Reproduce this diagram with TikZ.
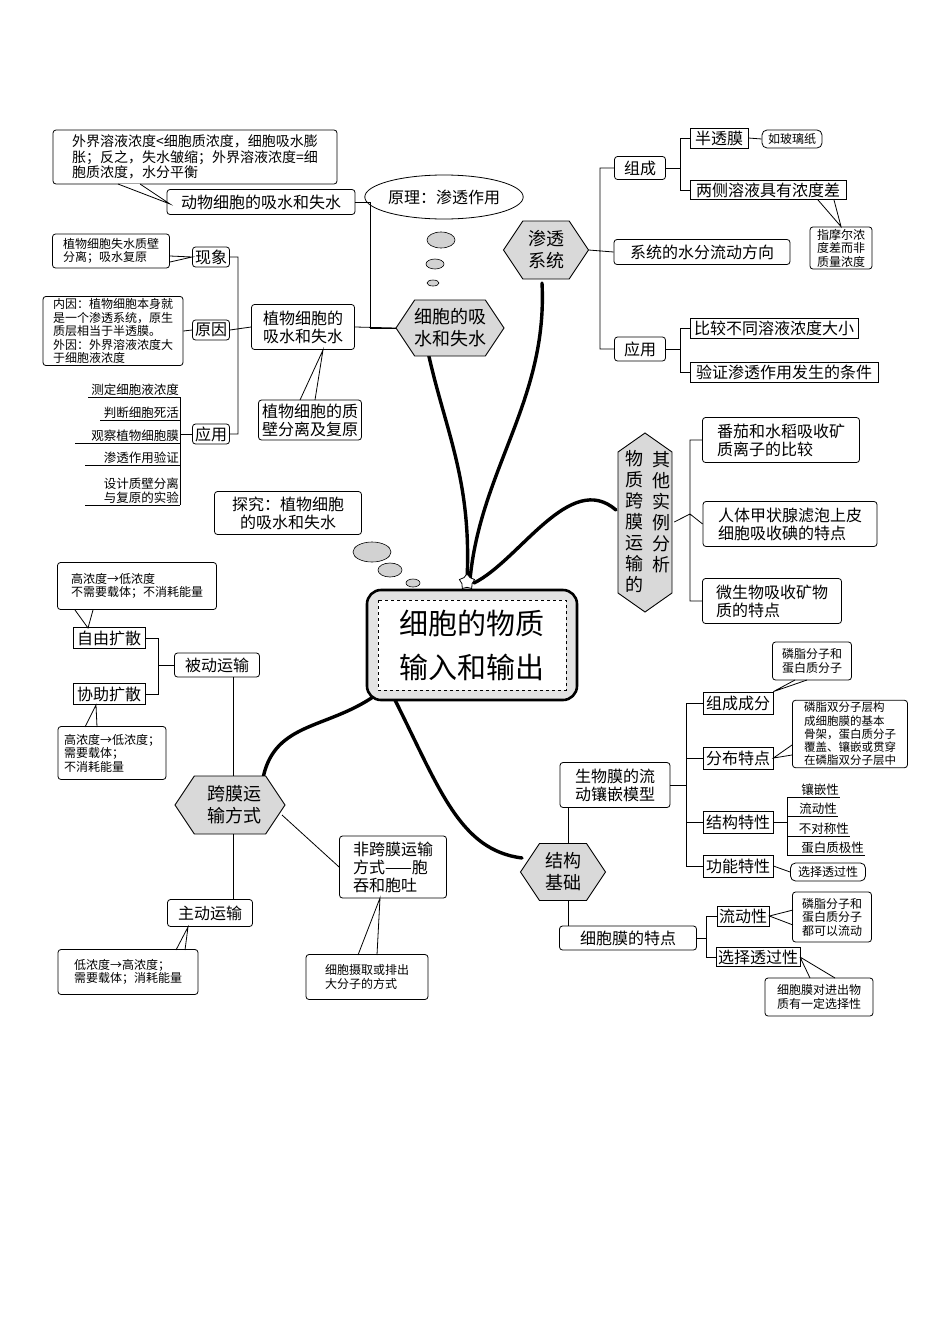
\documentclass[tikz,border=0pt]{standalone}
\usepackage{fontspec}
\setmainfont{Noto Sans CJK SC}
\XeTeXlinebreaklocale "zh"
\XeTeXlinebreakskip=0pt plus 1pt
\usetikzlibrary{shapes.geometric,calc}
\definecolor{hexgray}{gray}{0.85}
\newcommand\hexat[4]{% cx cy w h
  \filldraw[fill=hexgray,line width=0.9pt] ({#1-#3/2},#2) -- ({#1-#3/2+#4/3},{#2-#4/2}) -- ({#1+#3/2-#4/3},{#2-#4/2}) -- ({#1+#3/2},#2) -- ({#1+#3/2-#4/3},{#2+#4/2}) -- ({#1-#3/2+#4/3},{#2+#4/2}) -- cycle;}
\begin{document}
\begin{tikzpicture}[x=1pt,y=-1pt,
  box/.style={draw,line width=0.8pt,rounded corners=3pt,inner sep=2pt,align=center,font=\fontsize{16}{18}\selectfont},
  sbox/.style={box,rounded corners=0pt},
  cbox/.style={box,align=left,font=\fontsize{14}{15.5}\selectfont},
  tbox/.style={box,align=left,font=\fontsize{12}{13.5}\selectfont},
  hx/.style={align=center,font=\fontsize{18}{22}\selectfont},
  ln/.style={line width=0.8pt},
  thickc/.style={line width=3.4pt,line cap=round},
  lst/.style={anchor=south east,inner sep=1pt,align=right,font=\fontsize{12.5}{14}\selectfont}]
\useasboundingbox (0,0) rectangle (950,1344);
% ---------- thick curves
\draw[thickc] (428,352) .. controls (445,430) and (472,480) .. (467,580);
\draw[thickc] (542,283) .. controls (548,400) and (480,470) .. (470,580);
\draw[thickc] (616,510) .. controls (570,470) and (520,560) .. (474,583);
\draw[thickc] (380,692) .. controls (330,730) and (275,720) .. (263,778);
\draw[thickc] (395,700) .. controls (440,790) and (460,850) .. (522,858);
% ---------- central
\filldraw[fill=gray!22,line width=2.6pt,rounded corners=14pt] (367,590) rectangle (577,700);
\draw[dashed,line width=0.8pt,fill=white] (378,600) rectangle (566,690);
\node[align=center,font=\fontsize{29}{44}\selectfont] (center) at (472,645) {细胞的物质\\输入和输出};
\node[star,star points=5,draw,fill=white,minimum size=16pt,inner sep=0pt,line width=0.8pt] (star) at (467,582) {};
% ---------- top-left: 细胞的吸水和失水
\hexat{450}{328}{108}{56}
\node[hx,minimum width=108,minimum height=56] (hxa) at (450,328) {细胞的吸\\水和失水};
\node[draw,ellipse,line width=0.8pt,minimum width=130,minimum height=44,font=\fontsize{16}{18}\selectfont,inner sep=0pt] (yl) at (444,197) {原理：渗透作用};
\filldraw[fill=gray!35,line width=0.6pt] (441,240) ellipse (14 and 8);
\filldraw[fill=gray!35,line width=0.6pt] (435,264) ellipse (9 and 5);
\filldraw[fill=gray!35,line width=0.6pt] (433,283) ellipse (6 and 3);
\node[box,minimum width=188,minimum height=25] (dw) at (261,202) {动物细胞的吸水和失水};
\node[cbox,minimum width=284,minimum height=54] (dwc) at (195,157) {外界溶液浓度<细胞质浓度，细胞吸水膨\\胀；反之，失水皱缩；外界溶液浓度=细\\胞质浓度，水分平衡};
\draw[ln,fill=white] (118,184) -- (170,204) -- (140,184);
\node[box,minimum width=103,minimum height=45] (zw) at (303,327) {植物细胞的\\吸水和失水};
\coordinate (j1) at (370,328);
\draw[ln] (dw.east) -| (j1) -- (hxa.west);
\draw[ln] (zw.east) -- (hxa.west);
\node[box,minimum width=37,minimum height=20] (xx) at (211,257) {现象};
\node[box,minimum width=37,minimum height=20] (yy) at (211,330) {原因};
\node[box,minimum width=37,minimum height=20] (yyy) at (211,434) {应用};
\coordinate (j2) at (238,327);
\draw[ln] (xx.east) -| (j2) (yyy.east) -| (j2) (yy.east) -- (zw.west);
\node[tbox,minimum width=117,minimum height=34] (xxc) at (111,251) {植物细胞失水质壁\\分离；吸水复原};
\draw[ln] (170,256) -- (xx.west) -- (170,262);
\node[tbox,font=\fontsize{12}{13.5}\selectfont,minimum width=140] (yyc) at (113,331) {内因：植物细胞本身就\\是一个渗透系统，原生\\质层相当于半透膜。\\外因：外界溶液浓度大\\于细胞液浓度};
\draw[ln] (yyc.east) -- (yy.west);
\node[lst] (l1) at (180,397) {测定细胞液浓度};
\node[lst] (l2) at (180,420) {判断细胞死活};
\node[lst] (l3) at (180,443) {观察植物细胞膜};
\node[lst] (l4) at (180,465) {渗透作用验证};
\node[lst] (l5) at (180,505) {设计质壁分离\\与复原的实验};
\draw[ln] (88,397)--(180,397) (100,420)--(180,420) (75,443)--(180,443) (85,465)--(180,465) (85,505)--(180,505);
\draw[ln] (180,397) -- (180,505);
\draw[ln] (180,434) -- (yyy.west);
\node[box,minimum width=103,minimum height=40] (zb) at (310,420) {植物细胞的质\\壁分离及复原};
\draw[ln] (300,400) -- (323,350) -- (315,400);
\node[box,minimum width=147,minimum height=43] (tj) at (288,513) {探究：植物细胞\\的吸水和失水};
\filldraw[fill=gray!35,line width=0.6pt] (372,552) ellipse (19 and 10);
\filldraw[fill=gray!35,line width=0.6pt] (390,570) ellipse (12 and 7);
\filldraw[fill=gray!35,line width=0.6pt] (413,583) ellipse (7 and 4);
% ---------- top-right: 渗透系统
\hexat{546}{250}{85}{58}
\node[hx,minimum width=85,minimum height=58] (st) at (546,250) {渗透\\系统};
\node[box,minimum width=51,minimum height=23] (zc) at (640,168) {组成};
\node[box,minimum width=176,minimum height=25] (fx) at (702,252) {系统的水分流动方向};
\node[box,minimum width=51,minimum height=24] (yy2) at (640,349) {应用};
\coordinate (j3) at (600,252);
\draw[ln] (st.east) -- (fx.west) (zc.west) -| (j3) (yy2.west) -| (j3);
\node[sbox,minimum width=58,minimum height=20] (btm) at (719,138) {半透膜};
\node[box,rounded corners=5pt,font=\fontsize{12}{13}\selectfont,minimum width=60,minimum height=18] (blz) at (792,139) {如玻璃纸};
\draw[ln] (btm.east) -- (blz.west);
\node[sbox,minimum width=156,minimum height=19] (lc) at (768,190) {两侧溶液具有浓度差};
\coordinate (j4) at (680,168);
\draw[ln] (zc.east) -- (j4) (btm.west) -| (j4) (lc.west) -| (j4);
\node[tbox,align=center,minimum width=62] (mr) at (841,248) {指摩尔浓\\度差而非\\质量浓度};
\draw[ln] (818,200) -- (mr.north) -- (834,200);
\node[sbox,minimum width=168,minimum height=20] (bj) at (774,328) {比较不同溶液浓度大小};
\node[sbox,minimum width=188,minimum height=20] (yz) at (784,372) {验证渗透作用发生的条件};
\coordinate (j5) at (680,349);
\draw[ln] (yy2.east) -- (j5) (bj.west) -| (j5) (yz.west) -| (j5);
% ---------- 其他实例分析
\filldraw[fill=hexgray,line width=0.9pt] (618,452) -- (645,433) -- (672,452) -- (672,593) -- (645,612) -- (618,593) -- cycle;
\node[minimum width=58,minimum height=180] (qt) at (645,522) {};
\node[align=center,font=\fontsize{18}{21}\selectfont] at (634,522) {物\\质\\跨\\膜\\运\\输\\的};
\node[align=center,font=\fontsize{18}{21}\selectfont] at (661,512) {其\\他\\实\\例\\分\\析};
\node[box,align=left,minimum width=157,minimum height=45] (fq) at (781,440) {番茄和水稻吸收矿\\质离子的比较};
\node[box,align=left,minimum width=174,minimum height=45] (jz) at (790,524) {人体甲状腺滤泡上皮\\细胞吸收碘的特点};
\node[box,align=left,minimum width=139,minimum height=45] (ws) at (772,601) {微生物吸收矿物\\质的特点};
\coordinate (j6) at (690,514);
\draw[ln] (qt.east) -- (j6) (fq.west) -| (j6) (ws.west) -| (j6) (jz.west) -- (j6);
% ---------- 结构基础
\hexat{563}{872}{85}{57}
\node[hx,minimum width=85,minimum height=57] (jg) at (563,872) {结构\\基础};
\node[box,minimum width=110,minimum height=45] (sw) at (615,785) {生物膜的流\\动镶嵌模型};
\node[box,minimum width=137,minimum height=24] (xb) at (628,938) {细胞膜的特点};
\draw[ln] (568,808) -- (568,843) (568,901) -- (568,926);
\node[sbox,minimum width=70,minimum height=22] (zf) at (738,703) {组成成分};
\node[sbox,minimum width=70,minimum height=22] (fb) at (738,758) {分布特点};
\node[sbox,minimum width=70,minimum height=22] (jt) at (738,822) {结构特性};
\node[sbox,minimum width=70,minimum height=22] (gn) at (738,866) {功能特性};
\coordinate (j7) at (686,785);
\draw[ln] (sw.east) -- (j7) (zf.west) -| (j7) (gn.west) -| (j7) (fb.west) -- (fb.west -| j7) (jt.west) -- (jt.west -| j7);
\node[tbox,align=center,minimum width=79,minimum height=38] (lz) at (812,661) {磷脂分子和\\蛋白质分子};
\draw[ln] (795,680) -- (zf.north east) -- (807,680);
\node[tbox,font=\fontsize{11.5}{13.2}\selectfont,inner sep=2pt,minimum width=115] (ls) at (850,734) {磷脂双分子层构\\成细胞膜的基本\\骨架，蛋白质分子\\覆盖、镶嵌或贯穿\\在磷脂双分子层中};
\draw[ln] (792,745) -- (fb.east) -- (792,755);
\node[lst] at (840,797) {镶嵌性};
\node[lst] at (838,816) {流动性};
\node[lst] at (850,836) {不对称性};
\node[lst] at (865,855) {蛋白质极性};
\draw[ln] (787,797)--(840,797) (787,816)--(838,816) (787,836)--(850,836) (787,855)--(865,855) (787,797)--(787,855) (jt.east)--(787,822);
\node[box,rounded corners=5pt,font=\fontsize{12}{13}\selectfont,minimum width=75,minimum height=18] (xz) at (828,872) {选择透过性};
\draw[ln] (gn.east) -- (xz.west);
\node[sbox,minimum width=51,minimum height=20] (ld) at (743,916) {流动性};
\node[sbox,minimum width=83,minimum height=19] (xz2) at (758,957) {选择透过性};
\coordinate (j8) at (706,938);
\draw[ln] (xb.east) -- (j8) (ld.west) -| (j8) (xz2.west) -| (j8);
\node[tbox,align=center,minimum width=79,minimum height=50] (lz2) at (832,917) {磷脂分子和\\蛋白质分子\\都可以流动};
\draw[ln] (793,910) -- (ld.east) -- (793,925);
\node[tbox,align=center,minimum width=108,minimum height=38] (xbc) at (819,997) {细胞膜对进出物\\质有一定选择性};
\draw[ln] (800,957) -- (810,978) (800,957) -- (835,978);
% ---------- 跨膜运输方式
\hexat{230}{805}{110}{58}
\node[hx,minimum width=110,minimum height=58] (km) at (230,805) {\ \ 跨膜运\\\ \ 输方式};
\node[box,minimum width=85,minimum height=24] (bd) at (217,665) {被动运输};
\node[box,minimum width=85,minimum height=27] (zd) at (210,913) {主动运输};
\draw[ln] (233,677) -- (233,776) (233,834) -- (233,900);
\node[box,align=left,minimum width=107,minimum height=62] (fk) at (393,867) {非跨膜运输\\方式——胞\\吞和胞吐};
\draw[ln] (282,815) -- (fk.west);
\node[tbox,minimum width=122,minimum height=45] (fkc) at (367,977) {细胞摄取或排出\\大分子的方式};
\draw[ln] (358,955) -- (380,898) -- (377,955);
\node[sbox,minimum width=72,minimum height=21] (zy) at (109,638) {自由扩散};
\node[sbox,minimum width=72,minimum height=21] (xz3) at (109,694) {协助扩散};
\coordinate (j9) at (158,665);
\draw[ln] (bd.west) -- (j9) (zy.east) -| (j9) (xz3.east) -| (j9);
\node[tbox,minimum width=159,minimum height=47] (zyc) at (137,586) {高浓度→低浓度\\不需要载体；不消耗能量};
\draw[ln] (75,610) -- (88,628) -- (93,610);
\node[tbox,minimum width=108,minimum height=53] (xzc) at (112,753) {高浓度→低浓度；\\需要载体；\\不消耗能量};
\draw[ln] (85,727) -- (96,705) -- (97,727);
\node[tbox,minimum width=140,minimum height=45] (zdc) at (128,972) {低浓度→高浓度；\\需要载体；消耗能量};
\draw[ln] (176,950) -- (188,927) -- (185,950);
\end{tikzpicture}
\end{document}
